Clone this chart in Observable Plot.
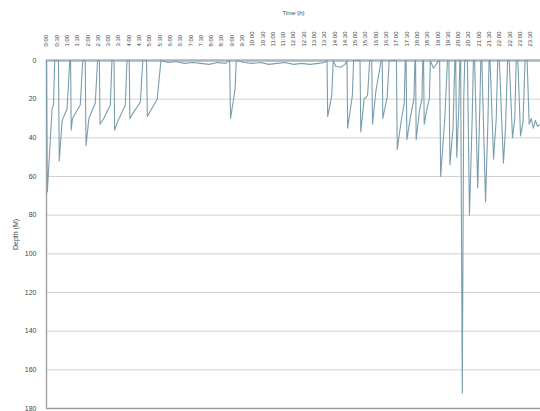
<!DOCTYPE html>
<html>
<head>
<meta charset="utf-8">
<script src="https://cdn.jsdelivr.net/npm/d3@7"></script>
<script src="https://cdn.jsdelivr.net/npm/@observablehq/plot@0.6"></script>
<style>
  html, body { margin: 0; padding: 0; background: #ffffff; }
  #chart { width: 540px; height: 411px; }
</style>
</head>
<body>
<div id="chart"></div>
<script>
// Time labels along the top axis (every 30 minutes)
const timeLabels = [
  "0:00","0:30","1:00","1:30","2:00","2:30","3:00","3:30","4:00","4:30",
  "5:00","5:30","6:00","6:30","7:00","7:30","8:00","8:30","9:00","9:30",
  "10:00","10:30","11:00","11:30","12:00","12:30","13:00","13:30","14:00","14:30",
  "15:00","15:30","16:00","16:30","17:00","17:30","18:00","18:30","19:00","19:30",
  "20:00","20:30","21:00","21:30","22:00","22:30","23:00","23:30"
];
const depthTicks = [0, 20, 40, 60, 80, 100, 120, 140, 160, 180];
const gridTicks = [20, 40, 60, 80, 100, 120, 140, 160];

// Dive profile: time (hours) and depth (m)
const times = [
  0.00, 0.04, 0.27, 0.34, 0.40,
  0.58, 0.62, 0.76, 1.00, 1.13,
  1.17, 1.20, 1.26, 1.64, 1.76,
  1.88, 1.92, 2.06, 2.37, 2.48,
  2.57, 2.60, 2.78, 3.10, 3.18,
  3.28, 3.31, 3.44, 3.83, 3.91,
  4.02, 4.05, 4.16, 4.56, 4.68,
  4.86, 4.90, 4.97, 5.38, 5.56,
  5.90, 6.30, 6.70, 7.10, 7.50, 7.90, 8.30, 8.70,
  8.90, 8.94, 9.16, 9.22,
  9.60, 10.00, 10.40, 10.80, 11.20, 11.60, 12.00, 12.40, 12.80, 13.20, 13.50,
  13.63, 13.66, 13.86, 13.93,
  14.05, 14.30, 14.50,
  14.60, 14.63, 14.86, 14.92,
  15.23, 15.27, 15.43, 15.60, 15.70,
  15.80, 15.84, 16.00, 16.26,
  16.31, 16.34, 16.55, 16.65,
  17.00, 17.04, 17.25, 17.38, 17.43,
  17.47, 17.51, 17.70, 17.85, 17.90,
  17.93, 17.96, 18.12, 18.24, 18.28,
  18.32, 18.35, 18.50, 18.60, 18.65,
  18.80, 19.00,
  19.10, 19.15, 19.35, 19.48,
  19.55, 19.60, 19.75, 19.84,
  19.88, 19.93, 20.03, 20.08,
  20.12, 20.20, 20.27, 20.32,
  20.45, 20.55, 20.68, 20.74,
  20.80, 20.95, 21.05, 21.10,
  21.15, 21.33, 21.45, 21.50,
  21.55, 21.72, 21.85, 21.92,
  22.00, 22.20, 22.30, 22.40,
  22.48, 22.64, 22.75, 22.82,
  22.90, 23.03, 23.15, 23.25,
  23.35, 23.45, 23.55, 23.65, 23.75, 23.85, 24.00
];
const depths = [
  0, 68, 25, 23, 0,
  0, 52, 31, 25, 0,
  0, 36, 30, 23, 0,
  0, 44, 30, 22, 0,
  0, 33, 30, 23, 0,
  0, 36, 32, 23, 0,
  0, 30, 28, 21.5, 0,
  0, 29, 27.5, 20, 0,
  1, 0.5, 1.5, 1, 1.5, 2, 1, 1.5,
  0, 30, 15, 0,
  1, 1.5, 1, 2, 1.5, 1, 2, 1.5, 2, 1.5, 1,
  0, 29, 18, 0,
  3, 3.5, 2,
  0, 35, 18, 0,
  0, 37, 20, 18, 0,
  0, 33, 16, 0,
  0, 30, 19, 0,
  0, 46, 30, 22, 0,
  0, 41, 28, 20, 0,
  0, 41, 26, 20, 0,
  0, 33, 24, 20, 0,
  4, 1,
  0, 60, 30, 0,
  0, 54, 35, 0,
  0, 50, 25, 0,
  0, 172, 20, 0,
  0, 80, 30, 0,
  0, 66, 25, 0,
  0, 73, 30, 0,
  0, 51, 30, 0,
  0, 53, 35, 0,
  0, 40, 30, 0,
  0, 39, 32, 0,
  0, 33, 30, 35, 31, 34, 33
];

const data = times.map((t, i) => ({t, d: depths[i]}));
const tickHours = timeLabels.map(s => { const [h, m] = s.split(":"); return +h + (+m) / 60; });
const labelOf = new Map(tickHours.map((h, i) => [h, timeLabels[i]]));

const chart = Plot.plot({
  width: 540,
  height: 411,
  marginTop: 60,
  marginBottom: 3,
  marginLeft: 46,
  marginRight: 0,
  style: { fontFamily: "Liberation Sans, Arial, sans-serif", background: "#ffffff", color: "#444" },
  x: { domain: [0, 24] },
  y: { domain: [0, 180], reverse: true },
  marks: [
    Plot.gridY(gridTicks, { stroke: "#d2d2d2", strokeOpacity: 1, strokeWidth: 1 }),
    Plot.ruleY([180], { stroke: "#9a9a9a", strokeWidth: 1.5 }),
    Plot.ruleX([0], { stroke: "#a8a8a8", strokeWidth: 1.5 }),
    Plot.ruleY([0], { stroke: "#aab6bd", strokeWidth: 2.5 }),
    Plot.line(data, { x: "t", y: "d", stroke: "#7a9eac", strokeWidth: 1.1, curve: "linear" }),
    Plot.axisX(tickHours, {
      anchor: "top",
      tickSize: 0,
      tickPadding: 14,
      tickRotate: -90,
      textAnchor: "start",
      lineAnchor: "middle",
      fontSize: 6,
      fill: "#444",
      tickFormat: h => labelOf.get(h),
      label: "Time (h)",
      labelAnchor: "center",
      labelArrow: "none",
      labelOffset: 50
    }),
    Plot.axisY(depthTicks, {
      anchor: "left",
      tickSize: 0,
      tickPadding: 10,
      fontSize: 7,
      fill: "#444",
      label: "Depth (M)",
      labelAnchor: "center",
      labelArrow: "none",
      labelOffset: 33
    })
  ]
});
document.getElementById("chart").appendChild(chart);
</script>
</body>
</html>
